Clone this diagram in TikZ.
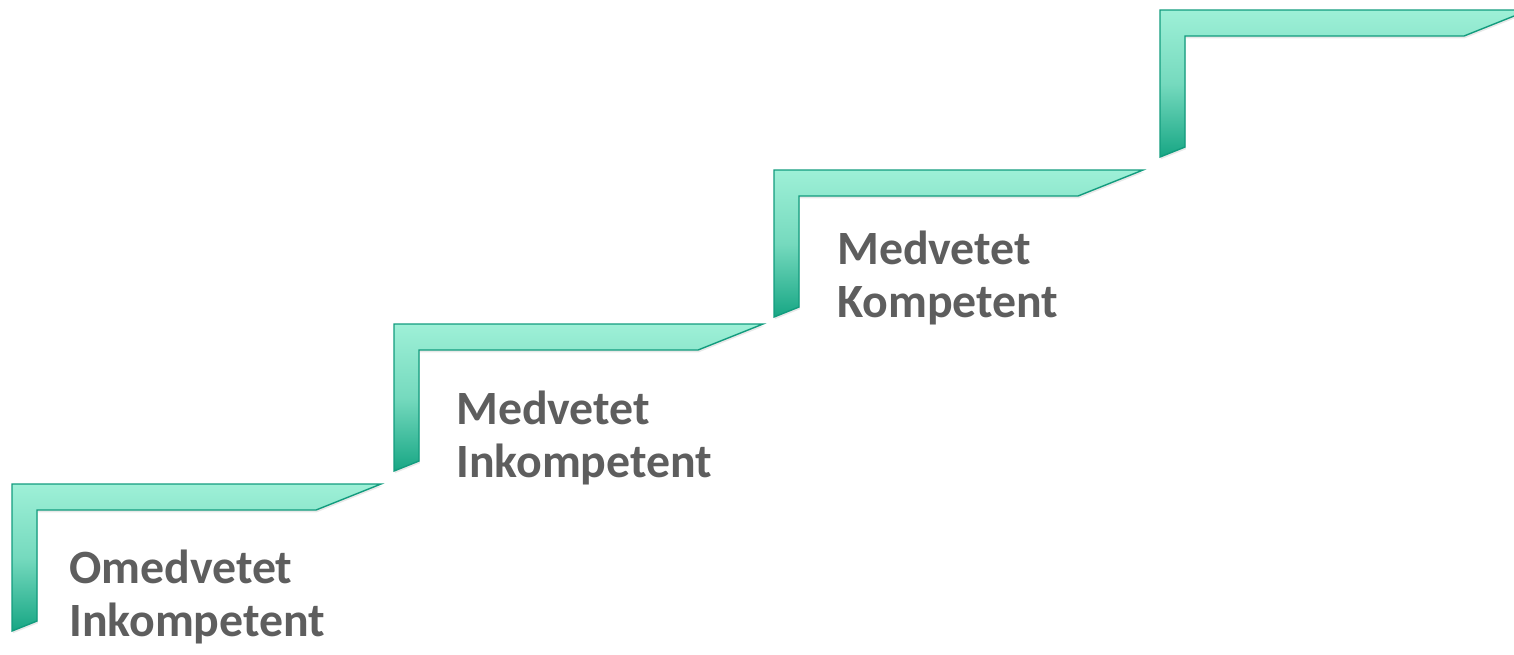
\documentclass[tikz,border=0pt]{standalone}
\usepackage{fontspec}
\setmainfont{Carlito}
\usetikzlibrary{shadows}

\definecolor{mintlight}{HTML}{9EF0D7}
\definecolor{mintdark}{HTML}{17A684}
\definecolor{mintedge}{HTML}{129C7E}
\definecolor{labelgray}{HTML}{5E5E5E}

\begin{document}
\begin{tikzpicture}[x=0.025cm, y=-0.025cm,
    stair/.style={draw=mintedge, line width=1pt, line join=miter,
      top color=mintlight, bottom color=mintdark, middle color=mintlight!70!mintdark,
      drop shadow={shadow xshift=0.6pt, shadow yshift=-1.6pt, opacity=0.18}},
    steplabel/.style={anchor=base west, inner sep=0pt, align=left, text=labelgray,
      font=\fontsize{34}{37.6}\selectfont\bfseries}]
    \useasboundingbox (0,0) rectangle (1514,654);

    % Steps
    \draw[stair] (12,484) -- ++(369,0) -- ++(-65,26) -- ++(-279,0) -- ++(0,111) -- ++(-25,10) -- cycle;
    \draw[stair] (394,324) -- ++(369,0) -- ++(-65,26) -- ++(-279,0) -- ++(0,111) -- ++(-25,10) -- cycle;
    \draw[stair] (774,170) -- ++(369,0) -- ++(-65,26) -- ++(-279,0) -- ++(0,111) -- ++(-25,10) -- cycle;
    \draw[stair] (1160,10) -- ++(369,0) -- ++(-65,26) -- ++(-279,0) -- ++(0,111) -- ++(-25,10) -- cycle;

    % Labels
    \node[steplabel] (omedinkomp) at (69,636) {Omedvetet\\Inkompetent};
    \node[steplabel] (medinkomp) at (456,477) {Medvetet\\Inkompetent};
    \node[steplabel] (medkomp) at (837,317) {Medvetet\\Kompetent};
\end{tikzpicture}
\end{document}
